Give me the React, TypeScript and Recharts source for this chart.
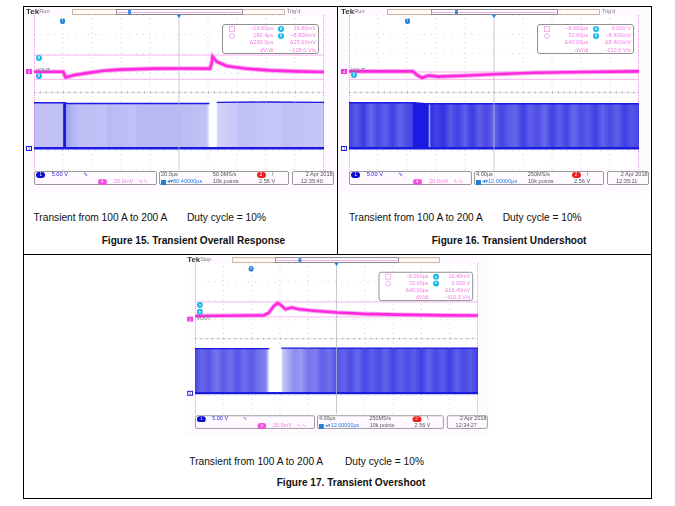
import { ComposedChart, Area, Line, XAxis, YAxis, ReferenceLine } from 'recharts';

// time in us from screen centre, levels in divisions from screen centre
const fig15Time = [-100, -79.8, -78.2, -72.9, -63.7, -52.2, -40.7, -17.7, 0.7, 21.4, 22.5, 23.2, 26, 32.9, 46.7, 62.8, 81.2, 100];
const fig15Trace = [1.07, 1.07, 0.78, 0.89, 1.0, 1.12, 1.18, 1.23, 1.24, 1.23, 1.5, 1.85, 1.59, 1.37, 1.23, 1.14, 1.09, 1.06];
const fig15BandTime = [-100, -79, -77, 21, 22, 24, 26, 60, 100];
const fig15BandTop = [-0.53, -0.53, -0.57, -0.57, null, null, -0.51, -0.49, -0.51];
const fig15DensityTime = [-100, -80, -79.6, -78, -77.6, -74, -68, -50, -49, -30, -29, 0, 19, 21.5, 24, 27, 40, 41, 70, 71, 100];
const fig15Density = [0.27, 0.27, 1, 1, 0.42, 0.34, 0.28, 0.27, 0.31, 0.27, 0.31, 0.3, 0.27, 0, 0, 0.2, 0.24, 0.28, 0.24, 0.28, 0.25];

const fig16Time = [-20, -11.2, -10.6, -9.9, -9.3, -8.9, -7.7, -3.6, 0, 5.6, 12.5, 20];
const fig16Trace = [1.09, 1.09, 0.9, 0.75, 0.85, 0.87, 0.82, 0.88, 0.94, 1.02, 1.06, 1.09];
const fig16BandTime = [-20, -11, -9.5, 20];
const fig16BandTop = [-0.53, -0.53, -0.58, -0.58];
const fig16DensityTime = [-20, -19, -18, -17, -16, -15, -14, -13, -12, -11.2, -11.1, -9.1, -9.05, -8.9, -8.7, -8, -7, -6, -5, -4, -3, -2, -1, 0, 1, 2, 3, 4, 5, 6, 7, 8, 9, 10, 11, 12, 13, 14, 15, 16, 17, 18, 19, 20];
const fig16Density = [0.85, 0.72, 0.86, 0.66, 0.8, 0.7, 0.84, 0.68, 0.78, 0.82, 1, 1, 0.85, 0.4, 0.9, 0.82, 0.9, 0.72, 0.84, 0.7, 0.86, 0.7, 0.8, 0.66, 0.82, 0.72, 0.68, 0.84, 0.7, 0.78, 0.66, 0.84, 0.7, 0.82, 0.66, 0.78, 0.72, 0.84, 0.68, 0.8, 0.7, 0.84, 0.74, 0.8];

const fig17Time = [-20, -12.6, -10.3, -9.6, -8.9, -8.3, -7.8, -7.2, -6.3, -5.3, -3.2, 0.1, 3.9, 8.6, 15.7, 20];
const fig17Trace = [1.2, 1.22, 1.23, 1.36, 1.71, 1.89, 1.75, 1.55, 1.64, 1.55, 1.48, 1.38, 1.31, 1.27, 1.23, 1.22];
const fig17BandTime = [-20, -9.5, -8.8, -7.8, 20];
const fig17BandTop = [-0.53, -0.53, null, -0.5, -0.5];
const fig17DensityTime = [-20, -19, -18, -17, -16, -15, -14, -13, -12, -11, -10, -9.4, -7.8, -7.7, -7, -6, -5, -4, -3, -2, -1, 0.1, 1, 2, 3, 4, 5, 6, 7, 8, 9, 10, 11, 12, 13, 14, 15, 16, 17, 18, 19, 20];
const fig17Density = [0.8, 0.66, 0.74, 0.6, 0.72, 0.62, 0.74, 0.64, 0.72, 0.62, 0.55, 0, 0, 0.22, 0.34, 0.5, 0.44, 0.6, 0.56, 0.7, 0.62, 0.76, 0.68, 0.78, 0.66, 0.8, 0.7, 0.78, 0.68, 0.82, 0.7, 0.78, 0.72, 0.84, 0.68, 0.8, 0.72, 0.84, 0.7, 0.8, 0.72, 0.84];

const gridDivs = [-4, -3, 1, 2, 3, 4];
const timeDivs = [-4, -3, -2, -1, 1, 2, 3, 4];

const panel15 = {
  id: '15', usPerDiv: 20, time: fig15Time, trace: fig15Trace, bandTime: fig15BandTime, bandTop: fig15BandTop,
  densityTime: fig15DensityTime, density: fig15Density, cursorA: 1.93, cursorB: 0.68, bottom: -2.88,
  state: 'Run', trig: "Trig'd", markerX: 93.5, tMarkerX: 28.3, vout: 56, showA: true, aY: 43.3, bY: 61,
  readTime: ['−19.60µs', '180.4µs', 'Δ200.0µs', 'dV/dt'], readLevel: ['16.80mV', '−8.800mV', 'Δ25.60mV', '−128.0 V/s'],
  scale: '20.0µs', rate: '50.0MS/s', delay: '80.40000µs', slope: '/', date: '2 Apr  2018', clock: '12:35:40',
};
const panel16 = {
  id: '16', usPerDiv: 4, time: fig16Time, trace: fig16Trace, bandTime: fig16BandTime, bandTop: fig16BandTop,
  densityTime: fig16DensityTime, density: fig16Density, cursorA: 1.06, cursorB: 0.68, bottom: -2.88,
  state: 'Run', trig: "Trig'd", markerX: 106, tMarkerX: 58, vout: 56, showA: false, aY: 0, bY: 60.3,
  readTime: ['−8.000µs', '32.00µs', 'Δ40.00µs', 'dV/dt'], readLevel: ['0.000 V', '−8.400mV', 'Δ8.400mV', '−210.0 V/s'],
  scale: '4.00µs', rate: '250MS/s', delay: '12.00000µs', slope: '/', date: '2 Apr  2018', clock: '12:35:11',
};
const panel17 = {
  id: '17', usPerDiv: 4, time: fig17Time, trace: fig17Trace, bandTime: fig17BandTime, bandTop: fig17BandTop,
  densityTime: fig17DensityTime, density: fig17Density, cursorA: 1.94, cursorB: 1.15, bottom: -2.88,
  state: 'Stop', trig: '', markerX: 106, tMarkerX: 57.4, vout: 57, showA: true, aY: 43, bY: 50,
  readTime: ['−8.000µs', '32.00µs', 'Δ40.00µs', 'dV/dt'], readLevel: ['16.40mV', '0.000 V', 'Δ16.40mV', '−410.0 V/s'],
  scale: '4.00µs', rate: '250MS/s', delay: '12.00000µs', slope: '\\', date: '2 Apr  2018', clock: '12:34:27',
};

const PLOT_W = 290;
const PLOT_H = 155;
const PINK = '#f48ae6';
const BLUE = '#1a1ae0';

const Txt = ({ x, y, size = 5.6, color = '#555', bold = false, right = false, children }: any) => (
  <div
    style={{
      position: 'absolute',
      left: right ? undefined : x,
      right: right ? PLOT_W - x : undefined,
      top: y,
      transform: 'translateY(-50%)',
      fontSize: size,
      lineHeight: 1,
      color,
      fontWeight: bold ? 700 : 400,
      whiteSpace: 'nowrap',
    }}
  >
    {children}
  </div>
);

const Box = ({ x, y, w, h, border = '#999', bg = 'transparent', radius = 2 }: any) => (
  <div
    style={{
      position: 'absolute',
      left: x,
      top: y,
      width: w,
      height: h,
      boxSizing: 'border-box',
      border: `1px solid ${border}`,
      background: bg,
      borderRadius: radius,
    }}
  />
);

const Badge = ({ x, y, w = 6, bg = '#19b5ee', color = '#fff', children }: any) => (
  <div
    style={{
      position: 'absolute',
      left: x - w / 2,
      top: y - 3,
      width: w,
      height: 6,
      borderRadius: 3,
      background: bg,
      color,
      fontSize: 4.5,
      lineHeight: '6px',
      textAlign: 'center',
    }}
  >
    {children}
  </div>
);

function Scope({ p, left, top, zoom }: any) {
  const rows = p.time.map((t: number, i: number) => ({ t, trace: p.trace[i] }));
  const bandRows = p.bandTime.map((t: number, i: number) => ({ t, top: p.bandTop[i] }));
  const span = p.usPerDiv * 5;
  const gradId = `band${p.id}`;
  return (
    <div
      style={{
        position: 'absolute',
        left,
        top,
        width: PLOT_W,
        height: PLOT_H,
        transform: `scale(${zoom})`,
        transformOrigin: '0 0',
        filter: 'blur(0.3px)',
      }}
    >
      <div style={{ position: 'absolute', left: -10, top: -8, width: 311, height: 186, background: '#fffaff' }} />
      <div style={{ position: 'absolute', left: 0, top: 0, width: PLOT_W, height: PLOT_H, background: '#fff', borderLeft: `1px dotted ${PINK}`, borderRight: `1px dotted ${PINK}`, boxSizing: 'border-box' }} />
      <div style={{ position: 'absolute', left: 0, top: 0 }}>
        <ComposedChart width={PLOT_W} height={PLOT_H} margin={{ top: 0, right: 0, bottom: 0, left: 0 }} data={rows}>
          <defs>
            <linearGradient id={gradId} x1="0" y1="0" x2="1" y2="0">
              {p.densityTime.map((t: number, i: number) => (
                <stop key={i} offset={(t + span) / (2 * span)} stopColor={BLUE} stopOpacity={p.density[i]} />
              ))}
            </linearGradient>
          </defs>
          <XAxis type="number" dataKey="t" domain={[-span, span]} hide />
          <YAxis type="number" domain={[-4, 4]} hide />
          {gridDivs.map((d) => (
            <ReferenceLine key={`h${d}`} y={d} stroke="#cfcfcf" strokeDasharray="1 5.8" />
          ))}
          {timeDivs.map((d) => (
            <ReferenceLine
              key={`v${d}`}
              segment={[{ x: d * p.usPerDiv, y: -0.5 }, { x: d * p.usPerDiv, y: 4 }]}
              stroke="#cfcfcf"
              strokeDasharray="1 3.9"
            />
          ))}
          {timeDivs.map((d) => (
            <ReferenceLine
              key={`w${d}`}
              segment={[{ x: d * p.usPerDiv, y: -4 }, { x: d * p.usPerDiv, y: -2.95 }]}
              stroke="#cfcfcf"
              strokeDasharray="1 3.9"
            />
          ))}
          <ReferenceLine y={p.cursorA} stroke="#f6b6ee" strokeWidth={1} />
          <ReferenceLine y={p.cursorB} stroke="#f6b6ee" strokeWidth={1} />
          <Area
            data={bandRows}
            dataKey="top"
            baseValue={p.bottom}
            stroke={BLUE}
            strokeWidth={1.4}
            fill={`url(#${gradId})`}
            fillOpacity={1}
            dot={false}
            activeDot={false}
            isAnimationActive={false}
          />
          <ReferenceLine y={p.bottom} stroke={BLUE} strokeWidth={2.4} />
          <ReferenceLine y={0} stroke="#e4e4e4" strokeWidth={1} />
          <ReferenceLine y={0} stroke="#a8a8a8" strokeWidth={2} strokeDasharray="1 4.8" />
          <ReferenceLine x={0} stroke="#b6bac6" strokeWidth={0.8} />
          <Line dataKey="trace" stroke="#f9aaef" strokeWidth={4.6} dot={false} activeDot={false} isAnimationActive={false} />
          <Line dataKey="trace" stroke="#ff2adf" strokeWidth={2.6} dot={false} activeDot={false} isAnimationActive={false} />
        </ComposedChart>
      </div>

      <Txt x={-8} y={-3} size={8} bold color="#333">Tek</Txt>
      <Txt x={5.3} y={-3} color="#777">{p.state}</Txt>
      {p.trig && <Txt x={252.7} y={-3} color="#777">{p.trig}</Txt>}
      <Box x={38.3} y={-5.7} w={213} h={5.4} border="#c9b5a5" bg="#fff8f4" radius={0} />
      <Box x={81.7} y={-5.7} w={127.6} h={5.4} border="#8a8a8a" bg="#fff" radius={0} />
      <div style={{ position: 'absolute', left: 82, top: -3.5, width: 127, height: 1, background: '#f4a6ea' }} />
      <div style={{ position: 'absolute', left: p.markerX, top: -5, width: 3, height: 4, background: '#3a8de8' }} />
      <Badge x={p.tMarkerX} y={6} w={5} bg="#1f7fd8">T</Badge>
      <div style={{ position: 'absolute', left: 142.5, top: 0, borderLeft: '2.5px solid transparent', borderRight: '2.5px solid transparent', borderTop: `3px solid #1f7fd8` }} />

      {p.showA && <Badge x={5} y={p.aY} w={5.5}>a</Badge>}
      <Badge x={5} y={p.bY} w={5.5}>b</Badge>
      <div style={{ position: 'absolute', left: -8, top: p.vout - 2.5, width: 6, height: 5, background: '#f03bdc', color: '#fff', fontSize: 4, lineHeight: '5px', textAlign: 'center' }}>4</div>
      <Txt x={1.7} y={p.vout} size={5.2} color="#777">VOUT</Txt>
      <div style={{ position: 'absolute', left: -8, top: 130.5, width: 6, height: 5.5, border: `1px solid ${BLUE}`, boxSizing: 'border-box', color: BLUE, fontSize: 4, lineHeight: '4px', textAlign: 'center', background: '#fff' }}>1</div>

      <Box x={188} y={9} w={97} h={30} border="#8f8f8f" bg="#fff" radius={3} />
      <div style={{ position: 'absolute', left: 195, top: 11, width: 6, height: 5.5, border: '1px solid #f3b4ea', boxSizing: 'border-box' }} />
      <div style={{ position: 'absolute', left: 195, top: 18, width: 6, height: 6, border: '1px solid #f3b4ea', borderRadius: 3, boxSizing: 'border-box' }} />
      {p.readTime.map((s: string, i: number) => (
        <Txt key={s} x={239.3} y={[14, 21, 28.3, 35.7][i]} color="#f07fe2" right>{s}</Txt>
      ))}
      {p.readLevel.map((s: string, i: number) => (
        <Txt key={s} x={282} y={[14, 21, 28.3, 35.7][i]} color="#f07fe2" right>{s}</Txt>
      ))}
      <Badge x={247} y={14} w={5.5}>a</Badge>
      <Badge x={247} y={21} w={5.5}>b</Badge>

      <Box x={0} y={156} w={123} h={14} />
      <Badge x={6.7} y={160} w={9} bg="#0c0ccc">1</Badge>
      <Txt x={17.7} y={160} color="#2a2ae0">5.00 V</Txt>
      <Txt x={48.7} y={160} color="#2a2ae0">∿</Txt>
      <Badge x={68.3} y={167} w={9} bg="#f24ee0">4</Badge>
      <Txt x={80} y={167} color="#f07fe2">20.0mV</Txt>
      <Txt x={104.3} y={167} color="#f07fe2">∿∿</Txt>

      <Box x={125} y={156} w={130} h={14} />
      <Txt x={127} y={160}>{p.scale}</Txt>
      <Txt x={178.7} y={160}>{p.rate}</Txt>
      <Badge x={227} y={160} w={9} bg="#ee2020">2</Badge>
      <Txt x={237.7} y={160}>{p.slope}</Txt>
      <div style={{ position: 'absolute', left: 127, top: 164.5, width: 5, height: 5, background: '#1f7fd8' }} />
      <Txt x={133} y={167} color="#2a7fe0">◂▾{p.delay}</Txt>
      <Txt x={179} y={167}>10k points</Txt>
      <Txt x={225} y={167}>2.56 V</Txt>

      <Box x={257.7} y={156} w={42.5} h={14} />
      <Txt x={298.7} y={160} right>{p.date}</Txt>
      <Txt x={267} y={167}>{p.clock}</Txt>
    </div>
  );
}

const Rule = ({ x, y, w, h }: any) => (
  <div style={{ position: 'absolute', left: x, top: y, width: w, height: h, background: '#000' }} />
);

const Caption = ({ x, y, bold = false, size = 10.2, children }: any) => (
  <div
    style={{
      position: 'absolute',
      left: x,
      top: y,
      transform: 'translateY(-50%)',
      fontSize: size,
      lineHeight: 1,
      fontWeight: bold ? 700 : 400,
      color: '#111',
      whiteSpace: 'nowrap',
    }}
  >
    {children}
  </div>
);

export default function App() {
  return (
    <div
      style={{
        position: 'absolute',
        left: 0,
        top: 0,
        width: 675,
        height: 506,
        overflow: 'hidden',
        background: '#fff',
        fontFamily: '"Liberation Sans", Arial, sans-serif',
      }}
    >
      <Scope p={panel15} left={34} top={15} zoom={1} />
      <Scope p={panel16} left={349} top={15} zoom={1} />
      <Scope p={panel17} left={195} top={263} zoom={0.976} />

      <Rule x={23} y={6} w={629} h={1} />
      <Rule x={23} y={254} w={629} h={1} />
      <Rule x={23} y={498} w={629} h={1} />
      <Rule x={23} y={6} w={1} h={493} />
      <Rule x={651} y={6} w={1} h={493} />
      <Rule x={337} y={6} w={1} h={249} />

      <Caption x={33.5} y={217.5}>Transient from 100 A to 200 A</Caption>
      <Caption x={187} y={217.5}>Duty cycle = 10%</Caption>
      <Caption x={101.7} y={240.7} bold size={10.1}>Figure 15. Transient Overall Response</Caption>

      <Caption x={349} y={217.5}>Transient from 100 A to 200 A</Caption>
      <Caption x={502.7} y={217.5}>Duty cycle = 10%</Caption>
      <Caption x={431.7} y={240.7} bold size={10.1}>Figure 16. Transient Undershoot</Caption>

      <Caption x={189.3} y={461.7}>Transient from 100 A to 200 A</Caption>
      <Caption x={345} y={461.7}>Duty cycle = 10%</Caption>
      <Caption x={276.7} y={483.3} bold size={10.1}>Figure 17. Transient Overshoot</Caption>
    </div>
  );
}
